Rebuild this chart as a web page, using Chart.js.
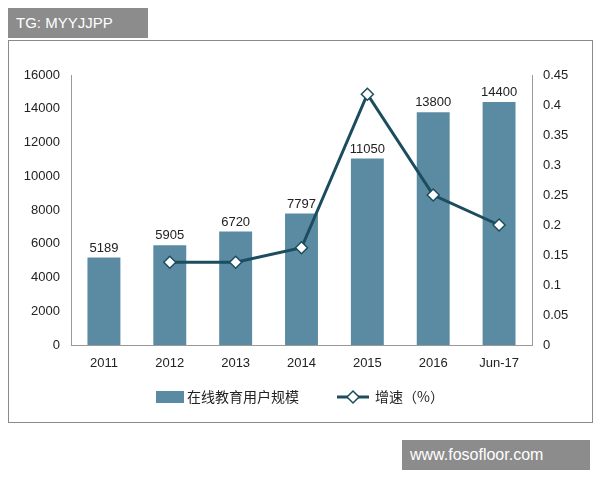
<!DOCTYPE html>
<html>
<head>
<meta charset="utf-8">
<script src="https://cdn.jsdelivr.net/npm/chart.js@4"></script>
<style>
  body { margin: 0; width: 600px; height: 480px; background: #fff; position: relative; font-family: "Liberation Sans", "Noto Sans CJK SC", sans-serif; }
  #box { position: absolute; left: 8px; top: 40px; width: 583px; height: 381px; border: 1px solid #8a8a8a; }
  .tag { position: absolute; background: #8c8c8c; color: #fff; font-size: 15px; line-height: 30px; padding: 0 8px; }
</style>
</head>
<body>
<div class="tag" style="left:8px;top:8px;width:124px;">TG: MYYJJPP</div>
<div id="box"><canvas id="c"></canvas></div>
<div class="tag" style="left:402px;top:440px;width:172px;font-size:16px;">www.fosofloor.com</div>
<script>
const categories = ["2011", "2012", "2013", "2014", "2015", "2016", "Jun-17"];
const users = [5189, 5905, 6720, 7797, 11050, 13800, 14400];
const growth = [null, 0.138, 0.138, 0.162, 0.418, 0.25, 0.2];
const barLabel = "在线教育用户规模";
const lineLabel = "增速（%）";

const BAR = "#5b8ba3";
const LINE = "#1c4d5e";
const FONT = { family: "'Liberation Sans', 'Noto Sans CJK SC', sans-serif", size: 13 };

const labelsPlugin = {
  id: "labels",
  afterDraw(chart) {
    const ctx = chart.ctx;
    const meta = chart.getDatasetMeta(1);
    ctx.save();
    ctx.font = "13px " + FONT.family;
    ctx.fillStyle = "#222";
    ctx.textAlign = "center";
    ctx.textBaseline = "bottom";
    meta.data.forEach((bar, i) => ctx.fillText(String(users[i]), bar.x, bar.y - 3));
    // legend
    const y = chart.chartArea.bottom + 52;
    ctx.fillStyle = BAR;
    ctx.fillRect(147, y - 6, 28, 12);
    ctx.fillStyle = "#222";
    ctx.textAlign = "left";
    ctx.textBaseline = "middle";
    ctx.font = "14px 'Noto Sans CJK SC', sans-serif";
    ctx.fillText(barLabel, 178, y);
    ctx.strokeStyle = LINE;
    ctx.lineWidth = 3;
    ctx.beginPath(); ctx.moveTo(328, y); ctx.lineTo(360, y); ctx.stroke();
    ctx.fillStyle = "#fff"; ctx.lineWidth = 1.5;
    ctx.beginPath(); ctx.moveTo(344, y - 6); ctx.lineTo(350, y); ctx.lineTo(344, y + 6); ctx.lineTo(338, y); ctx.closePath();
    ctx.fill(); ctx.stroke();
    ctx.fillStyle = "#222";
    ctx.fillText(lineLabel, 366, y);
    ctx.restore();
  }
};

new Chart(document.getElementById("c"), {
  data: {
    labels: categories,
    datasets: [
      {
        type: "line", label: lineLabel, data: growth, yAxisID: "y1", order: 0,
        borderColor: LINE, borderWidth: 3, pointStyle: "rectRot", pointRadius: 6,
        pointBackgroundColor: "#fff", pointBorderColor: LINE, pointBorderWidth: 1.5, tension: 0
      },
      {
        type: "bar", label: barLabel, data: users, yAxisID: "y", order: 1,
        backgroundColor: BAR, categoryPercentage: 0.5, barPercentage: 1
      }
    ]
  },
  options: {
    responsive: true, maintainAspectRatio: false, animation: false,
    layout: { padding: { top: 34, bottom: 52, left: 0, right: 0 } },
    plugins: { legend: { display: false }, tooltip: { enabled: false } },
    scales: {
      x: {
        grid: { display: false },
        border: { color: "#999" },
        ticks: { color: "#222", font: FONT },
        afterFit(s) { s.height = 25; }
      },
      y: {
        min: 0, max: 16000,
        ticks: { stepSize: 2000, color: "#222", font: FONT, callback: v => String(v) },
        grid: { display: false }, border: { color: "#999" },
        afterFit(s) { s.width = 62; }
      },
      y1: {
        position: "right", min: 0, max: 0.45,
        ticks: { stepSize: 0.05, color: "#222", font: FONT, callback: v => v === 0 ? "0" : String(Math.round(v * 100) / 100) },
        grid: { display: false }, border: { color: "#999" },
        afterFit(s) { s.width = 60; }
      }
    }
  },
  plugins: [labelsPlugin]
});
</script>
</body>
</html>
